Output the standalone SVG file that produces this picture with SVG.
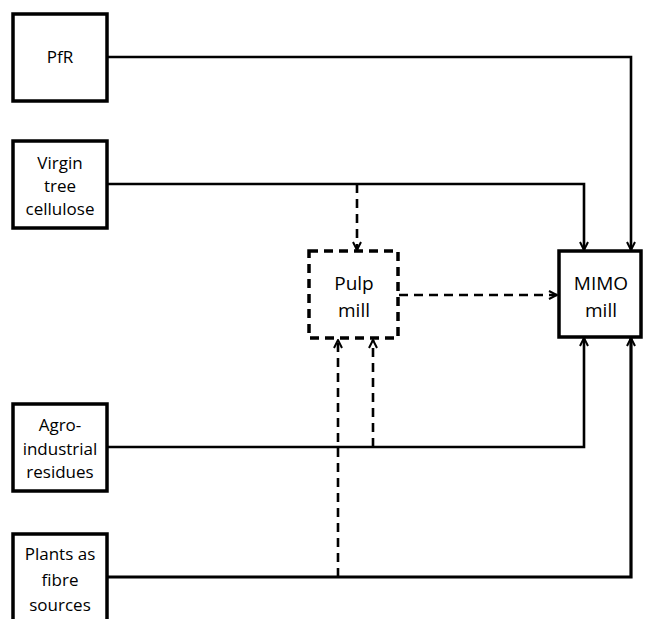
<svg xmlns="http://www.w3.org/2000/svg" width="645" height="619" viewBox="0 0 645 619">
<defs>
<style>
.box{fill:#fff;stroke:#000;stroke-width:3.5}
.dbox{fill:#fff;stroke:#000;stroke-width:3.5;stroke-dasharray:9 6}
.t{font-family:"Open Sans","Liberation Sans",sans-serif;font-size:17px;fill:#000;text-anchor:middle}
.tb{font-size:19px}
.c{fill:none;stroke:#000;stroke-width:2.6}
.d{fill:none;stroke:#000;stroke-width:2.6;stroke-dasharray:9 6}
</style>
<marker id="ah" viewBox="0 0 10 10" refX="9" refY="5" markerWidth="10" markerHeight="10" markerUnits="userSpaceOnUse" orient="auto">
<path d="M1,1 L9,5 L1,9" fill="none" stroke="#000" stroke-width="2"/>
</marker>
</defs>
<rect width="645" height="619" fill="#fff"/>
<g id="connectors">
<path class="c" d="M108,57 H631 V250" marker-end="url(#ah)"/>
<path class="c" d="M108,184 H584 V250" marker-end="url(#ah)"/>
<path class="d" d="M357,184 V250" marker-end="url(#ah)"/>
<path class="d" d="M399,295 H557" marker-end="url(#ah)"/>
<path class="c" d="M108,447 H584 V338" marker-end="url(#ah)"/>
<path class="d" d="M373,447 V340" marker-end="url(#ah)"/>
<path class="c" style="stroke-width:3.2" d="M108,577 H631 V338" marker-end="url(#ah)"/>
<path class="d" d="M338,577 V340" marker-end="url(#ah)"/>
</g>
<g id="pfr">
<rect class="box" x="13" y="14" width="94" height="87"/>
<text class="t" x="60" y="63">PfR</text>
</g>
<g id="virgin">
<rect class="box" x="13" y="141" width="94" height="87"/>
<text class="t" x="60" y="169">Virgin</text>
<text class="t" x="60" y="192">tree</text>
<text class="t" x="60" y="215">cellulose</text>
</g>
<g id="pulp">
<rect class="dbox" x="309" y="251" width="89" height="87"/>
<text class="t tb" x="354" y="290">Pulp</text>
<text class="t tb" x="354" y="317">mill</text>
</g>
<g id="mimo">
<rect class="box" x="559" y="251" width="82" height="86"/>
<text class="t tb" x="601" y="290">MIMO</text>
<text class="t tb" x="601" y="317">mill</text>
</g>
<g id="agro">
<rect class="box" x="13" y="404" width="94" height="87"/>
<text class="t" x="60" y="431">Agro-</text>
<text class="t" x="60" y="455">industrial</text>
<text class="t" x="60" y="478">residues</text>
</g>
<g id="plants">
<rect class="box" x="13" y="534" width="94" height="95"/>
<text class="t" x="60" y="560">Plants as</text>
<text class="t" x="60" y="586">fibre</text>
<text class="t" x="60" y="611">sources</text>
</g>
</svg>
